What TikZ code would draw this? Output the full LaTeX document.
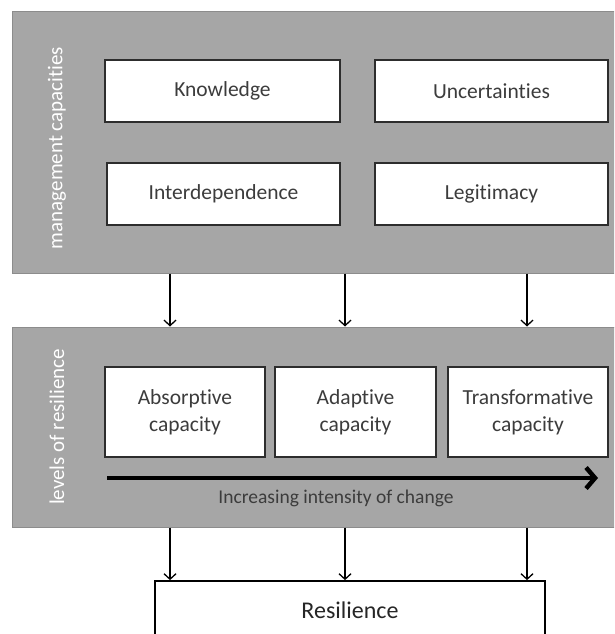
\documentclass[tikz,border=0pt]{standalone}
\usepackage{fontspec}
\setmainfont[Ligatures=NoCommon]{Carlito}
\usetikzlibrary{arrows.meta}
\definecolor{panelfill}{RGB}{166,166,166}
\definecolor{paneledge}{RGB}{140,140,140}
\definecolor{txt}{RGB}{60,60,60}
\definecolor{boxedge}{RGB}{45,45,45}
\begin{document}
\begin{tikzpicture}[x=1pt,y=-1pt,
  panel/.style={draw=paneledge, line width=1pt, fill=panelfill, inner sep=0pt},
  cbox/.style={draw=boxedge, line width=1.2pt, fill=white, inner sep=0pt, text=txt,
    font=\fontsize{21.5}{27}\selectfont, align=center},
  sidelabel/.style={text=white, rotate=90, font=\fontsize{21}{25}\selectfont, inner sep=0pt},
  conn/.style={line width=1.3pt, -{Straight Barb[length=5.5pt,width=12pt]}}
]
\useasboundingbox (0,0) rectangle (614,634);
\clip (0,0) rectangle (614,634);
% panels
\node[panel, minimum width=604, minimum height=261] (mc) at (314,142.5) {};
\node[panel, minimum width=604, minimum height=200] (lr) at (314,427) {};
\node[sidelabel] (mcl) at (57,148) {management capacities};
\node[sidelabel] (lrl) at (57,427) {levels of resilience};
% management capacity boxes
\node[cbox, minimum width=235, minimum height=62] (know) at (222.5,91) {Knowledge};
\node[cbox, minimum width=233, minimum height=62] (unc) at (491.5,91) {Uncertainties};
\node[cbox, minimum width=233, minimum height=62] (inter) at (223.5,194) {Interdependence};
\node[cbox, minimum width=233, minimum height=62] (legit) at (491.5,194) {Legitimacy};
% levels boxes
\node[cbox, minimum width=160, minimum height=90] (abs) at (185,412) {Absorptive\\capacity};
\node[cbox, minimum width=161, minimum height=90] (ada) at (355.5,412) {Adaptive\\capacity};
\node[cbox, minimum width=160, minimum height=90] (tra) at (528,412) {Transformative\\capacity};
% intensity arrow
\coordinate (ia) at (107,478);
\coordinate (ib) at (598,478);
\draw[line width=4.5pt, -{Straight Barb[length=9pt,width=21pt]}] (ia) -- (ib);
\node[text=txt, font=\fontsize{19.5}{23}\selectfont, inner sep=0pt] (inc) at (336,498) {Increasing intensity of change};
% resilience
\node[draw=black, line width=1.8pt, fill=white, minimum width=390, minimum height=58, inner sep=0pt,
  font=\fontsize{24}{28}\selectfont, text=black!85] (res) at (350,610) {Resilience};
% connectors
\coordinate (c1) at (170,0);
\coordinate (c2) at (345,0);
\coordinate (c3) at (527,0);
\foreach \c in {c1,c2,c3}{
  \draw[conn] (mc.south -| \c) -- (lr.north -| \c);
  \draw[conn] (lr.south -| \c) -- (res.north -| \c);
}
\end{tikzpicture}
\end{document}
